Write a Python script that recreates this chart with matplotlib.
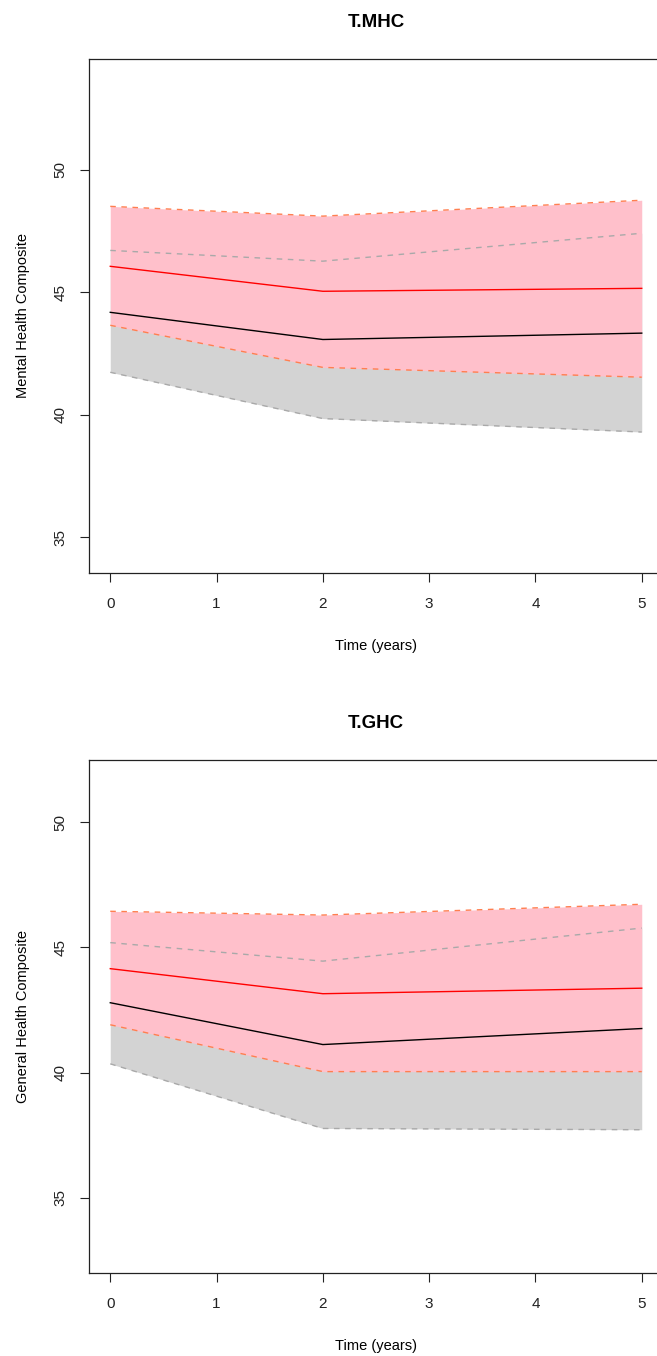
import matplotlib
matplotlib.use("Agg")
import matplotlib.pyplot as plt

plt.rcParams['font.family'] = ['Liberation Sans', 'DejaVu Sans']

time = [0, 2, 5]

# T.MHC panel
mhc_treat_mean = [46.06, 45.04, 45.16]
mhc_treat_lo = [43.65, 41.93, 41.53]
mhc_treat_hi = [48.51, 48.11, 48.76]
mhc_ctrl_mean = [44.18, 43.07, 43.33]
mhc_ctrl_lo = [41.73, 39.84, 39.29]
mhc_ctrl_hi = [46.71, 46.27, 47.41]

# T.GHC panel
ghc_treat_mean = [44.15, 43.15, 43.37]
ghc_treat_lo = [41.91, 40.04, 40.04]
ghc_treat_hi = [46.44, 46.29, 46.72]
ghc_ctrl_mean = [42.79, 41.12, 41.76]
ghc_ctrl_lo = [40.35, 37.77, 37.72]
ghc_ctrl_hi = [45.19, 44.45, 45.77]

panels = [
    dict(title="T.MHC", ylabel="Mental Health Composite", ylim=(33.53, 54.53),
         tm=mhc_treat_mean, tl=mhc_treat_lo, th=mhc_treat_hi,
         cm=mhc_ctrl_mean, cl=mhc_ctrl_lo, ch=mhc_ctrl_hi,
         rect=[89/657, 1-573/1356, (663-89)/657, (573-59)/1356]),
    dict(title="T.GHC", ylabel="General Health Composite", ylim=(32.0, 52.48),
         tm=ghc_treat_mean, tl=ghc_treat_lo, th=ghc_treat_hi,
         cm=ghc_ctrl_mean, cl=ghc_ctrl_lo, ch=ghc_ctrl_hi,
         rect=[89/657, 1-1273/1356, (663-89)/657, (1273-760)/1356]),
]

fig = plt.figure(figsize=(6.57, 13.56), dpi=100)

for p in panels:
    ax = fig.add_axes(p["rect"])
    ax.fill_between(time, p["cl"], p["ch"], color="lightgrey", lw=0, zorder=1)
    ax.fill_between(time, p["tl"], p["th"], color="pink", lw=0, zorder=2)
    ax.plot(time, p["ch"], color="darkgrey", lw=1, ls=(0, (4, 4)), zorder=3)
    ax.plot(time, p["cl"], color="darkgrey", lw=1, ls=(0, (4, 4)), zorder=3)
    ax.plot(time, p["th"], color="coral", lw=1, ls=(0, (4, 4)), zorder=3)
    ax.plot(time, p["tl"], color="coral", lw=1, ls=(0, (4, 4)), zorder=3)
    ax.plot(time, p["tm"], color="red", lw=1, zorder=4)
    ax.plot(time, p["cm"], color="black", lw=1, zorder=4)
    ax.set_xlim(-0.2, 5.2)
    ax.set_ylim(*p["ylim"])
    ax.set_xticks([0, 1, 2, 3, 4, 5])
    ax.set_yticks([35, 40, 45, 50])
    ax.tick_params(direction="out", length=6.5, width=0.8, labelsize=11, colors="#222222")
    ax.tick_params(axis="x", pad=11)
    ax.tick_params(axis="y", pad=9)
    for lab in ax.get_yticklabels():
        lab.set_rotation(90)
        lab.set_va("center")
    for s in ax.spines.values():
        s.set_linewidth(0.9)
        s.set_color("#222222")
    ax.set_title(p["title"], fontsize=13.5, fontweight="bold", pad=23)
    ax.set_xlabel("Time (years)", fontsize=10.5, labelpad=20)
    ax.set_ylabel(p["ylabel"], fontsize=10.5, labelpad=17)

fig.savefig("out.png", dpi=100)
